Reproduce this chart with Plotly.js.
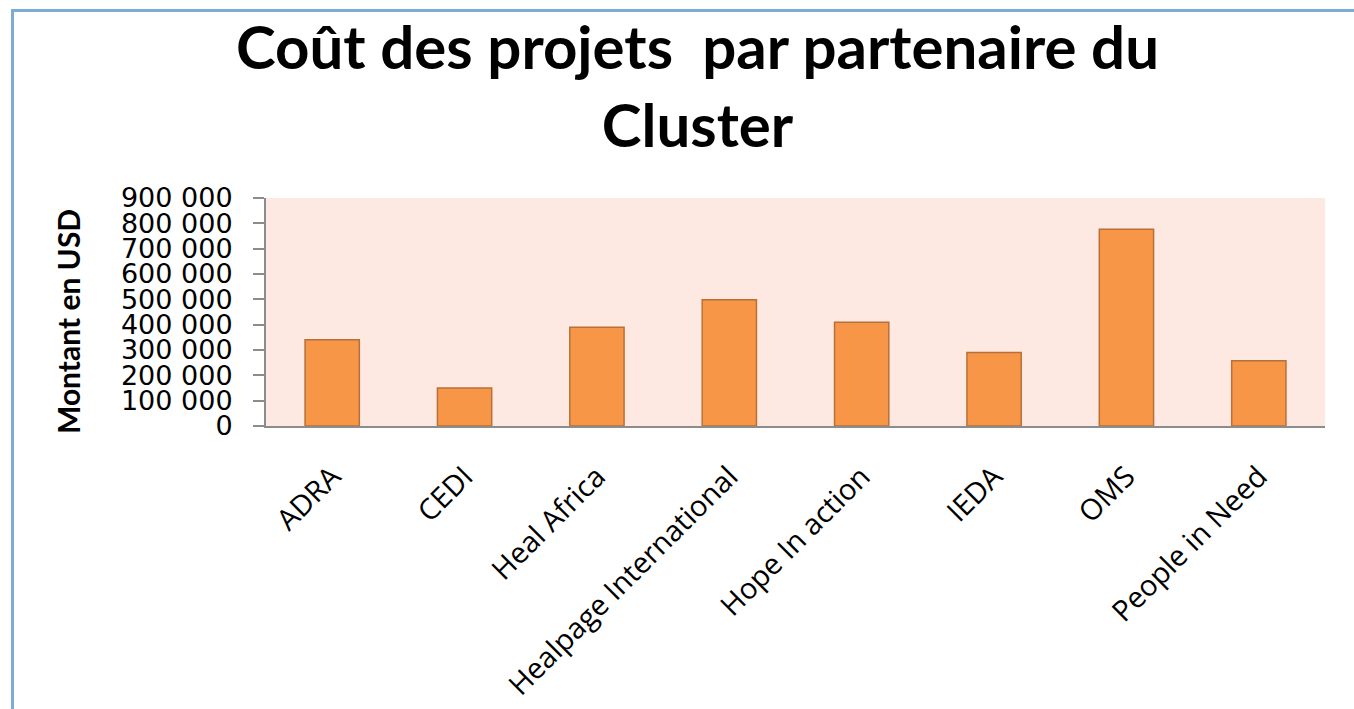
<!DOCTYPE html>
<html>
<head>
<meta charset="utf-8">
<script src="https://cdn.plot.ly/plotly-3.0.1.min.js"></script>
<style>
  html, body { margin: 0; padding: 0; background: #ffffff; }
  #wrap { position: relative; width: 1354px; height: 709px; overflow: hidden; }
  #chart { position: absolute; left: 0; top: 0; width: 1354px; height: 709px; }
  #frame { position: absolute; left: 11px; top: 9px; width: 1400px; height: 800px;
           border-top: 3px solid #7eaad6; border-left: 3px solid #7eaad6; pointer-events: none; }
</style>
</head>
<body>
<div id="wrap">
  <div id="chart"></div>
  <div id="frame"></div>
</div>
<script>
// Data
const partners = ["ADRA", "CEDI", "Heal Africa", "Healpage International", "Hope In action", "IEDA", "OMS", "People in Need"];
const costs = [340000, 150000, 390000, 498000, 410000, 290000, 777000, 258000];
const yTicks = [0, 100000, 200000, 300000, 400000, 500000, 600000, 700000, 800000, 900000];
const chartTitle = "Coût des projets  par partenaire du<br>Cluster";
const yTitle = "Montant en USD";

const trace = {
  type: "bar",
  x: partners,
  y: costs,
  width: 0.41,
  marker: { color: "#f79646", line: { color: "#b8703a", width: 1.5 } },
  hoverinfo: "x+y"
};

const layout = {
  width: 1354,
  height: 709,
  paper_bgcolor: "rgba(0,0,0,0)",
  plot_bgcolor: "#fde9e1",
  separators: ", ",
  showlegend: false,
  margin: { l: 266, r: 29, t: 198, b: 283, pad: 0 },
  annotations: [{
    text: chartTitle,
    showarrow: false,
    xref: "paper", x: (697 - 266) / 1059, xanchor: "center",
    yref: "paper", y: (426 - 8) / 228, yanchor: "top",
    align: "center",
    font: { family: "Lato, 'Open Sans', sans-serif", size: 60, color: "#000000", weight: "bold" }
  }, {
    text: yTitle,
    showarrow: false,
    textangle: -90,
    xref: "paper", x: (68 - 266) / 1059, xanchor: "center",
    yref: "paper", y: (426 - 322) / 228, yanchor: "middle",
    font: { family: "Lato, 'Open Sans', sans-serif", size: 30, color: "#000000", weight: "bold" }
  }],
  xaxis: {
    type: "category",
    tickangle: -45,
    showline: true, linecolor: "#8c8c8c", linewidth: 2,
    ticks: "", showgrid: false, zeroline: false,
    ticklabelstandoff: 20,
    tickfont: { family: "'Open Sans', sans-serif", size: 29, color: "#000000" },
    automargin: false
  },
  yaxis: {
    range: [0, 900000],
    tickmode: "array", tickvals: yTicks,
    tickformat: ",d",
    showline: true, linecolor: "#8c8c8c", linewidth: 2,
    ticks: "outside", ticklen: 11, tickcolor: "#8c8c8c", tickwidth: 2,
    ticklabelstandoff: 15,
    showgrid: false, zeroline: false,
    tickfont: { family: "'DejaVu Sans', Verdana, sans-serif", size: 27, color: "#000000" },
    automargin: false
  }
};

Plotly.newPlot("chart", [trace], layout, { displayModeBar: false, staticPlot: true });
</script>
</body>
</html>
